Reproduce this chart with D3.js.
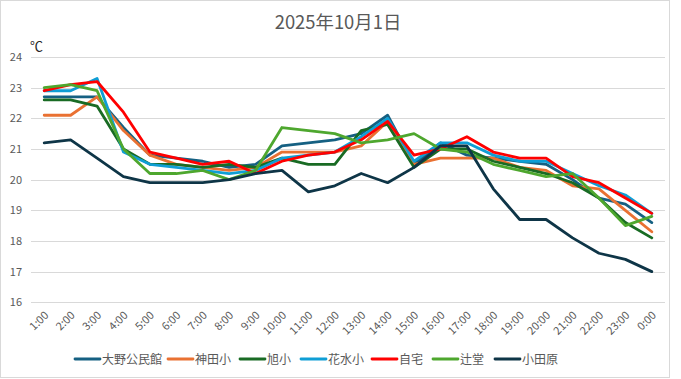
<!DOCTYPE html>
<html><head><meta charset="utf-8">
<script src="https://cdn.jsdelivr.net/npm/d3@7"></script>
<style>body{margin:0;background:#fff}svg{display:block}</style>
</head><body><svg id="c" width="681" height="379"></svg>
<script>
const hours = ["1:00","2:00","3:00","4:00","5:00","6:00","7:00","8:00","9:00","10:00","11:00","12:00","13:00","14:00","15:00","16:00","17:00","18:00","19:00","20:00","21:00","22:00","23:00","0:00"];
const seriesNames = ["大野公民館","神田小","旭小","花水小","自宅","辻堂","小田原"];
const oono    = [22.7,22.7,22.7,21.7,20.8,20.7,20.6,20.4,20.5,21.1,21.2,21.3,21.5,22.1,20.5,21.2,20.8,20.7,20.6,20.5,20.0,19.4,19.2,18.6];
const kanda   = [22.1,22.1,22.7,21.6,20.8,20.5,20.4,20.3,20.4,20.9,20.9,20.9,21.1,21.9,20.5,20.7,20.7,20.7,20.4,20.3,19.8,19.7,19.0,18.3];
const asahi   = [22.6,22.6,22.4,21.0,20.5,20.5,20.4,20.5,20.4,20.7,20.5,20.5,21.6,21.8,20.4,21.0,21.0,20.6,20.4,20.2,19.9,19.4,18.6,18.1];
const hanamizu= [22.9,22.9,23.3,20.9,20.5,20.4,20.3,20.2,20.3,20.7,20.8,20.9,21.4,22.0,20.6,21.2,21.2,20.8,20.6,20.6,20.2,19.8,19.5,18.9];
const jitaku  = [22.9,23.1,23.2,22.2,20.9,20.7,20.5,20.6,20.2,20.6,20.8,20.9,21.3,21.9,20.8,21.0,21.4,20.9,20.7,20.7,20.1,19.9,19.4,18.9];
const tsujido = [23.0,23.1,22.9,21.0,20.2,20.2,20.3,20.0,20.3,21.7,21.6,21.5,21.2,21.3,21.5,21.0,20.9,20.5,20.3,20.1,20.2,19.4,18.5,18.8];
const odawara = [21.2,21.3,20.7,20.1,19.9,19.9,19.9,20.0,20.2,20.3,19.6,19.8,20.2,19.9,20.4,21.1,21.1,19.7,18.7,18.7,18.1,17.6,17.4,17.0];
const yTicks = [16,17,18,19,20,21,22,23,24];
const colors = ["#156082","#E97132","#196B24","#0F9ED5","#FF0000","#4EA72E","#0E3547"];
const allSeries = [oono,kanda,asahi,hanamizu,jitaku,tsujido,odawara];

const svg = d3.select("#c");
const font = "'Noto Sans CJK JP','Noto Sans',sans-serif";
const gray = "#595959";

svg.append("rect").attr("x",0.5).attr("y",0.5).attr("width",669).attr("height",377)
  .attr("fill","#fff").attr("stroke","#d9d9d9");

const x = d3.scaleBand().domain(hours).range([31,665]);
const y = d3.scaleLinear().domain([16,24]).range([302.3,57]);

// gridlines
svg.append("g").selectAll("line").data(yTicks).join("line")
  .attr("x1",31).attr("x2",665)
  .attr("y1",d=>Math.round(y(d))+0.5).attr("y2",d=>Math.round(y(d))+0.5)
  .attr("stroke","#d9d9d9").attr("stroke-width",1);

// y axis labels
const ya = svg.append("g").attr("transform","translate(22,0)")
  .call(d3.axisLeft(y).tickValues(yTicks).tickSize(0).tickPadding(0).tickFormat(d3.format("d")));
ya.select(".domain").remove();
ya.selectAll("text").attr("font-family",font).attr("font-size",11).attr("fill",gray);

// x axis labels
const xa = svg.append("g").attr("transform","translate(0,302)")
  .call(d3.axisBottom(x).tickSize(0).tickPadding(0));
xa.select(".domain").remove();
xa.selectAll("text").attr("font-family",font).attr("font-size",11).attr("fill",gray)
  .attr("text-anchor","end").attr("dy",0)
  .attr("transform","translate(5,14) rotate(-45)");

// lines
const line = d3.line().x((d,i)=>x(hours[i])+x.bandwidth()/2).y(d=>y(d));
svg.append("g").selectAll("path").data(allSeries).join("path")
  .attr("d",d=>line(d)).attr("fill","none")
  .attr("stroke",(d,i)=>colors[i]).attr("stroke-width",2.8)
  .attr("stroke-linejoin","round").attr("stroke-linecap","round");

// title
svg.append("text").attr("x",338).attr("y",29).attr("text-anchor","middle")
  .attr("font-family",font).attr("font-size",18.4).attr("fill",gray).text("2025年10月1日");
// unit
svg.append("text").attr("x",30).attr("y",51).attr("font-family",font)
  .attr("font-size",13).attr("fill","#262626").text("℃");

// legend
const legX = [75,168,240,301,372,433,495];
const lg = svg.append("g").selectAll("g").data(seriesNames).join("g")
  .attr("transform",(d,i)=>`translate(${legX[i]},359)`);
lg.append("line").attr("x1",0).attr("x2",25).attr("y1",0).attr("y2",0)
  .attr("stroke",(d,i)=>colors[i]).attr("stroke-width",2.8).attr("stroke-linecap","round");
lg.append("text").attr("x",27).attr("y",4.5).attr("font-family",font)
  .attr("font-size",12).attr("fill",gray).text(d=>d);
</script></body></html>
